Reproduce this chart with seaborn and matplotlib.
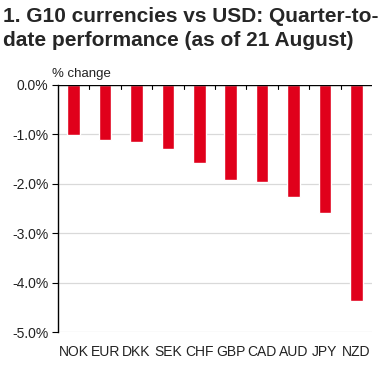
import matplotlib
matplotlib.use("Agg")
import matplotlib.pyplot as plt
import seaborn as sns
import pandas as pd
from matplotlib.ticker import FuncFormatter, FixedLocator

currencies = ["NOK", "EUR", "DKK", "SEK", "CHF", "GBP", "CAD", "AUD", "JPY", "NZD"]
changes = [-1.01, -1.11, -1.15, -1.30, -1.58, -1.92, -1.96, -2.26, -2.60, -4.37]
yticks = [0, -1, -2, -3, -4, -5]

df = pd.DataFrame({"currency": currencies, "change": changes})

sns.set_style("white")
plt.rcParams["font.family"] = ["Liberation Sans", "DejaVu Sans"]

fig = plt.figure(figsize=(3.87, 3.69), dpi=100)
ax = fig.add_axes([58/387, 1-332/369, (372-58)/387, (332-85)/369])

sns.barplot(data=df, x="currency", y="change", color="#E0001B", width=0.4,
            saturation=1, ax=ax)

ax.set_ylim(-5, 0)
ax.set_xlim(-0.5, 9.5)
ax.yaxis.set_major_locator(FixedLocator(yticks))
ax.yaxis.set_major_formatter(FuncFormatter(lambda v, p: f"{v:.1f}%"))
for y in yticks[1:]:
    ax.axhline(y, color="#D9D9D9", lw=0.9, zorder=0)
ax.axhline(0, color="black", lw=1.0, zorder=3)

for s in ["right", "bottom", "top"]:
    ax.spines[s].set_visible(False)
ax.spines["left"].set_color("black")
ax.spines["left"].set_linewidth(1.0)

ax.tick_params(axis="y", left=True, length=4, width=0.8, color="black",
               labelsize=10, labelcolor="#222222", pad=3)
ax.tick_params(axis="x", bottom=False, length=0, labelsize=10,
               labelcolor="#222222", pad=9)
ax.set_xlabel("")
ax.set_ylabel("")

# ticks on zero line between categories
for xb in [i + 0.5 for i in range(9)]:
    ax.plot([xb, xb], [0, -0.08], color="black", lw=0.8, zorder=3, clip_on=False)

fig.text(3/387, 1-7/369, "1. G10 currencies vs USD: Quarter-to-\ndate performance (as of 21 August)",
         ha="left", va="top", fontsize=15, fontweight="bold", linespacing=1.3)
fig.text(52/387, 1-74/369, "% change", ha="left", va="center", fontsize=9.5,
         color="#222222")

fig.savefig("out.png", dpi=100)
